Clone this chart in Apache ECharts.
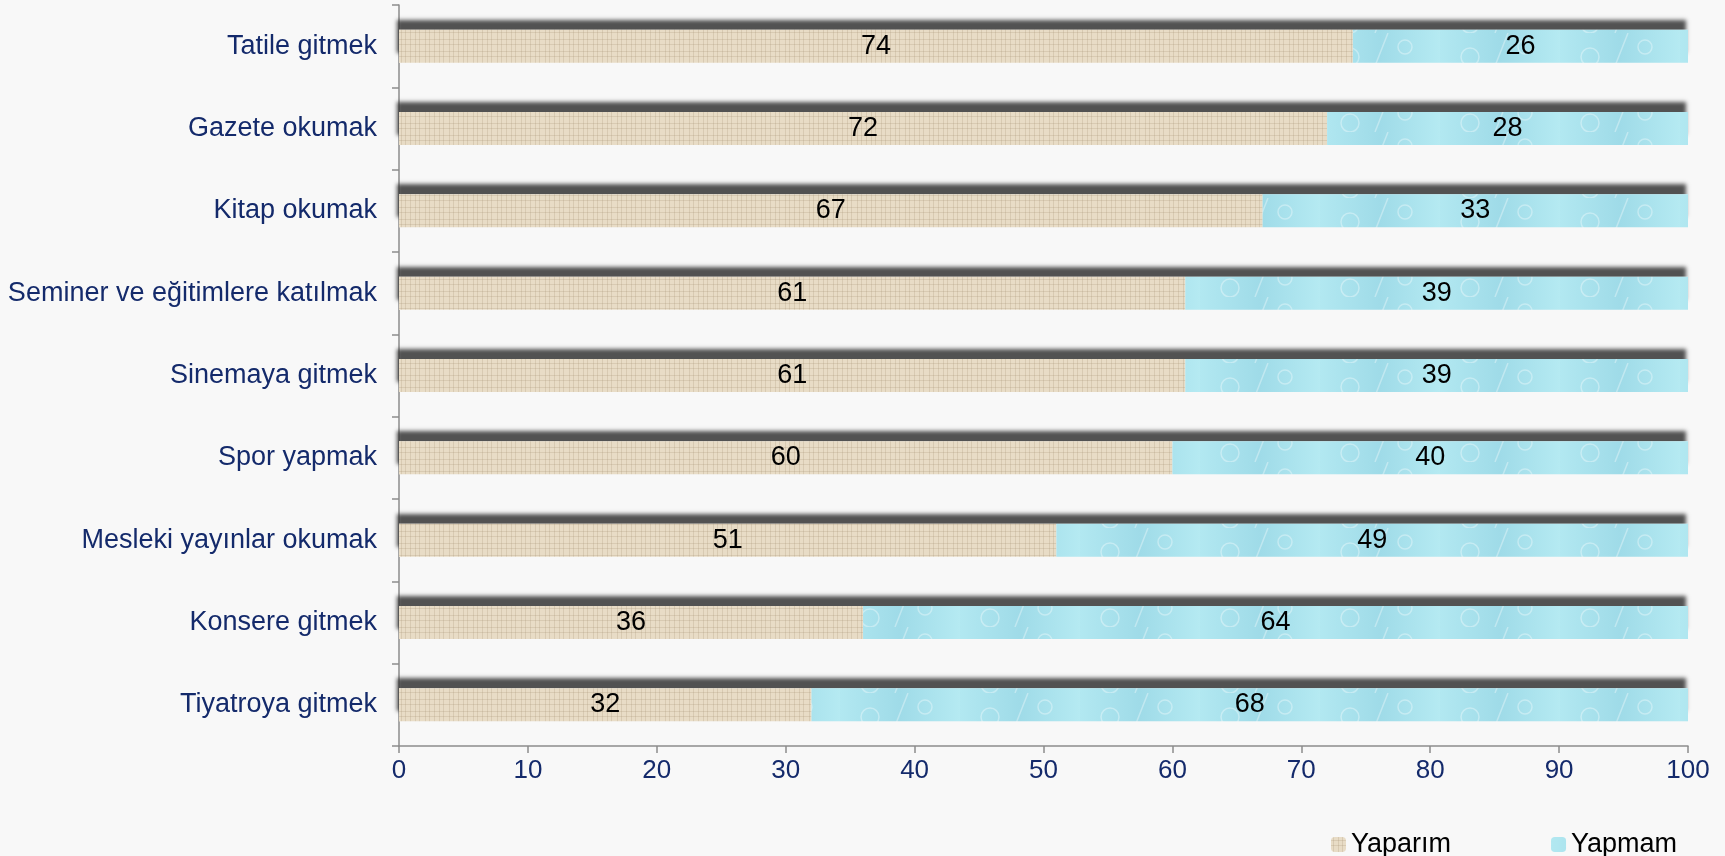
<!DOCTYPE html>
<html>
<head>
<meta charset="utf-8">
<script src="https://cdn.jsdelivr.net/npm/echarts@6/dist/echarts.min.js"></script>
<style>
  html, body { margin: 0; padding: 0; background: #f8f8f8; }
  #chart { width: 1725px; height: 856px; }
</style>
</head>
<body>
<div id="chart"></div>
<script>
// kategoriler (yukarıdan aşağıya)
const categories = ['Tatile gitmek', 'Gazete okumak', 'Kitap okumak', 'Seminer ve eğitimlere katılmak',
  'Sinemaya gitmek', 'Spor yapmak', 'Mesleki yayınlar okumak', 'Konsere gitmek', 'Tiyatroya gitmek'];
const yaparim = [74, 72, 67, 61, 61, 60, 51, 36, 32];
const yapmam = [26, 28, 33, 39, 39, 40, 49, 64, 68];
const xTicks = [0, 10, 20, 30, 40, 50, 60, 70, 80, 90, 100];

// keten dokusu
function linenPattern() {
  const c = document.createElement('canvas');
  c.width = 24; c.height = 12;
  const ctx = c.getContext('2d');
  ctx.fillStyle = '#e8dcc6';
  ctx.fillRect(0, 0, 24, 12);
  ctx.fillStyle = 'rgba(160,140,110,0.22)';
  [2, 7, 11, 17, 21].forEach(x => ctx.fillRect(x, 0, 1, 12));
  [3, 8].forEach(y => ctx.fillRect(0, y, 24, 1));
  return c;
}
// su dokusu
function waterPattern() {
  const c = document.createElement('canvas');
  c.width = 120; c.height = 33;
  const ctx = c.getContext('2d');
  const g = ctx.createLinearGradient(0, 0, 120, 0);
  g.addColorStop(0, '#b2e8f1');
  g.addColorStop(0.5, '#9fdbe8');
  g.addColorStop(1, '#b5eaf2');
  ctx.fillStyle = g;
  ctx.fillRect(0, 0, 120, 33);
  ctx.strokeStyle = 'rgba(255,255,255,0.35)';
  ctx.lineWidth = 1.5;
  ctx.beginPath(); ctx.arc(30, 24, 9, 0, Math.PI * 2); ctx.stroke();
  ctx.beginPath(); ctx.arc(85, 14, 7, 0, Math.PI * 2); ctx.stroke();
  ctx.beginPath(); ctx.moveTo(55, 33); ctx.lineTo(68, 0); ctx.stroke();
  return c;
}

const chart = echarts.init(document.getElementById('chart'));

chart.setOption({
  backgroundColor: '#f8f8f8',
  animation: false,
  textStyle: { fontFamily: 'Liberation Sans, Arial, sans-serif' },
  legend: {
    data: ['Yaparım', 'Yapmam'],
    left: 1326, top: 826,
    itemWidth: 15, itemHeight: 15, itemGap: 100,
    textStyle: { fontSize: 27, color: '#000' }
  },
  grid: { left: 399, right: 37, top: 5, bottom: 110, containLabel: false },
  xAxis: {
    type: 'value', min: 0, max: 100, interval: 10,
    axisLine: { show: true, lineStyle: { color: '#8c8c8c', width: 1.5 } },
    axisTick: { show: true, length: 7, lineStyle: { color: '#8c8c8c', width: 1.5 } },
    axisLabel: { fontSize: 26, color: '#142a6b', margin: 12,
      formatter: v => xTicks.includes(v) ? String(v) : '' },
    splitLine: { show: false }
  },
  yAxis: {
    type: 'category', data: categories, inverse: true,
    axisLine: { show: true, lineStyle: { color: '#8c8c8c', width: 1.5 } },
    axisTick: { show: true, length: 7, lineStyle: { color: '#8c8c8c', width: 1.5 } },
    axisLabel: { fontSize: 27, color: '#142a6b', margin: 22 }
  },
  series: [
    {
      name: 'Yaparım', type: 'bar', stack: 'a', data: yaparim, barWidth: 33,
      // gölge: tam genişlikte arka plan çubuğu
      showBackground: true,
      backgroundStyle: { color: '#f8f8f8', shadowColor: 'rgba(40,40,40,0.8)', shadowBlur: 4, shadowOffsetY: -10, shadowOffsetX: -2 },
      itemStyle: { color: { image: linenPattern(), repeat: 'repeat' } },
      label: { show: true, position: 'inside', fontSize: 27, color: '#000' }
    },
    {
      name: 'Yapmam', type: 'bar', stack: 'a', data: yapmam, barWidth: 33,
      itemStyle: { color: { image: waterPattern(), repeat: 'repeat' } },
      label: { show: true, position: 'inside', fontSize: 27, color: '#000' }
    }
  ]
});
</script>
</body>
</html>
